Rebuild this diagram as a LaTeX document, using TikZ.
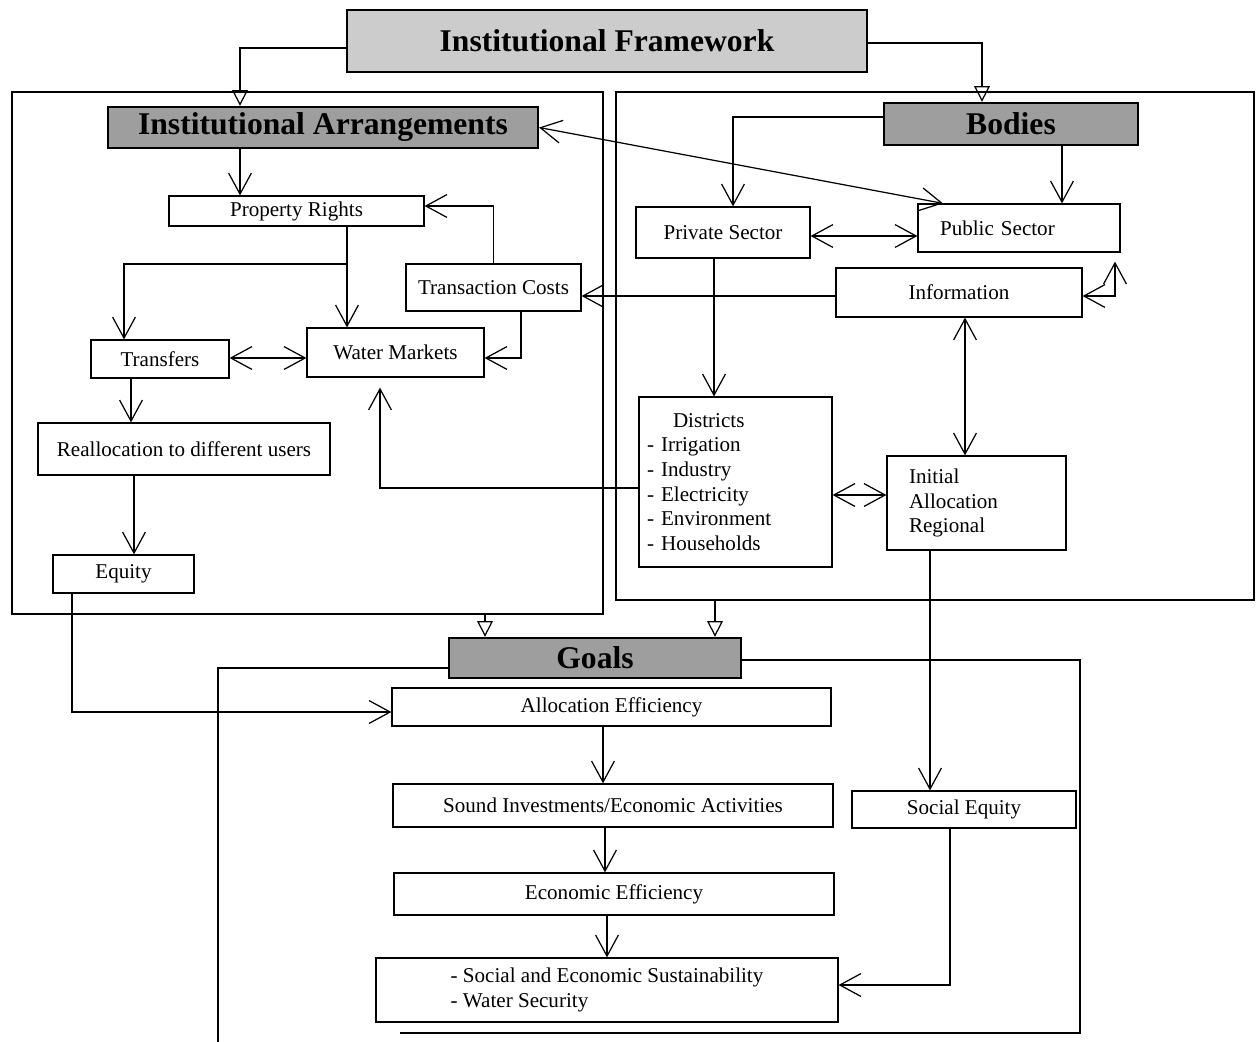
\documentclass[tikz,border=0pt]{standalone}
\usepackage{fontspec}
\setmainfont{Liberation Serif}
\usetikzlibrary{arrows.meta}

\begin{document}
\begin{tikzpicture}[x=0.02cm, y=-0.02cm, line width=0.7pt,
    box/.style={draw, inner sep=0pt, font=\fontsize{12}{14}\selectfont},
    head/.style={draw, line width=1.3pt, fill=black!38, inner sep=0pt, font=\fontsize{18}{20}\selectfont\bfseries},
    panel/.style={draw, inner sep=0pt},
    arr/.style={-{Straight Barb[length=12pt,width=13pt]}},
    dbl/.style={{Straight Barb[length=12pt,width=13pt]}-{Straight Barb[length=12pt,width=13pt]}},
    tri/.style={-{Triangle[open,length=9pt,width=9pt]}}]
    \useasboundingbox (0,0) rectangle (1257,1041);

    % frames
    \node[panel, minimum width=11.82cm, minimum height=10.44cm] (leftpanel) at (307.5,353) {};
    \node[panel, minimum width=12.76cm, minimum height=10.16cm] (rightpanel) at (935,346) {};

    % headers
    \node[head, fill=black!20, line width=0.9pt, minimum width=10.4cm, minimum height=1.24cm] (framework) at (607,41) {Institutional Framework};
    \node[head, minimum width=8.6cm, minimum height=0.82cm] (arrang) at (323,127.5) {Institutional Arrangements};
    \node[head, minimum width=5.08cm, minimum height=0.84cm] (bodies) at (1011,124) {Bodies};
    \node[head, minimum width=5.84cm, minimum height=0.8cm] (goals) at (595,658) {Goals};

    % arrangements
    \node[box, minimum width=5.1cm, minimum height=0.6cm] (prop) at (296.5,211) {Property Rights};
    \node[box, minimum width=3.5cm, minimum height=0.94cm] (costs) at (493.5,287.5) {Transaction Costs};
    \node[box, minimum width=2.76cm, minimum height=0.76cm] (transfers) at (160,359) {Transfers};
    \node[box, minimum width=3.54cm, minimum height=0.98cm] (wm) at (395.5,352.5) {Water Markets};
    \node[box, minimum width=5.84cm, minimum height=1.04cm] (realloc) at (184,449) {Reallocation to different users};
    \node[box, minimum width=2.82cm, minimum height=0.76cm] (equity) at (123.5,574) {Equity};

    % bodies
    \node[box, minimum width=3.48cm, minimum height=1.02cm] (private) at (723,232.5) {Private Sector};
    \node[box, inner xsep=0.44cm, text width=3.16cm, minimum height=0.96cm, align=left] (public) at (1019,228) {Public Sector};
    \node[box, minimum width=4.92cm, minimum height=0.98cm] (info) at (959,292.5) {Information};
    \node[box, inner xsep=0.16cm, text width=3.54cm, minimum height=3.4cm, align=left] (districts) at (735.5,482)
        {\hspace*{0.52cm}Districts\\- Irrigation\\- Industry\\- Electricity\\- Environment\\- Households};
    \node[box, inner xsep=0.44cm, text width=2.7cm, minimum height=1.88cm, align=left] (initial) at (976.5,503)
        {Initial\\Allocation\\Regional};

    % goals
    \node[box, minimum width=8.78cm, minimum height=0.76cm] (alloc) at (611.5,707) {Allocation Efficiency};
    \node[box, minimum width=8.8cm, minimum height=0.86cm] (sound) at (613,805.5) {Sound Investments/Economic Activities};
    \node[box, minimum width=8.8cm, minimum height=0.84cm] (econ) at (614,894) {Economic Efficiency};
    \node[box, minimum width=9.24cm, minimum height=1.28cm, align=left] (ses) at (607,990)
        {- Social and Economic Sustainability\\- Water Security};
    \node[box, minimum width=4.48cm, minimum height=0.74cm] (social) at (964,809.5) {Social Equity};

    \draw (goals.west |- 0,668) -| (218,1045);
    \draw (goals.east |- 0,660) -| (1080,1033) -- (400,1033);

    % framework links
    \draw[tri] (framework.west |- 0,48) -| (arrang.north -| 240,0);
    \draw[tri] (framework.east |- 0,43) -| (bodies.north -| 982,0);
    \draw[tri] (leftpanel.south -| 485,0) -- (goals.north -| 485,0);
    \draw[tri] (rightpanel.south -| 715,0) -- (goals.north -| 715,0);

    % left side
    \coordinate (fork) at (347,264);
    \draw[arr] (arrang.south -| 240,0) -- (prop.north -| 240,0);
    \draw[arr] (costs.north) |- (prop.east |- 0,206);
    \draw[arr] (prop.south -| 347,0) -- (wm.north -| 347,0);
    \draw[arr] (fork) -| (transfers.north -| 124,0);
    \draw[dbl] (transfers.east |- 0,358) -- (wm.west |- 0,358);
    \draw[arr] (costs.south -| 521,0) |- (wm.east |- 0,358);
    \draw[arr] (transfers.south -| 131,0) -- (realloc.north -| 131,0);
    \draw[arr] (realloc.south -| 134,0) -- (equity.north -| 134,0);
    \draw[arr] (equity.south -| 72,0) |- (alloc.west |- 0,712);
    \draw[arr] (districts.west |- 0,488) -| ([yshift=-0.2cm]wm.south -| 380,0);

    % right side
    \draw[arr] (bodies.west |- 0,117) -| (private.north -| 733,0);
    \draw[arr] (bodies.south -| 1062,0) -- (public.north -| 1062,0);
    \draw[dbl] (arrang.east) -- (public.north -| 943,0);
    \draw[dbl] (private.east |- 0,236) -- (public.west |- 0,236);
    \draw[arr] (info.west |- 0,296) -- (costs.east |- 0,296);
    \draw[dbl] (info.east |- 0,296) -| ([yshift=-0.18cm]public.south -| 1115,0);
    \draw[arr] (private.south -| 714,0) -- (districts.north -| 714,0);
    \draw[dbl] (info.south -| 965,0) -- (initial.north -| 965,0);
    \draw[dbl] (districts.east |- 0,495) -- (initial.west |- 0,495);
    \draw[arr] (initial.south -| 930,0) -- (social.north -| 930,0);

    % goals
    \draw[arr] (alloc.south -| 603,0) -- (sound.north -| 603,0);
    \draw[arr] (sound.south -| 605,0) -- (econ.north -| 605,0);
    \draw[arr] (econ.south -| 607,0) -- (ses.north -| 607,0);
    \draw[arr] (social.south -| 950,0) |- (ses.east |- 0,985);
\end{tikzpicture}
\end{document}
